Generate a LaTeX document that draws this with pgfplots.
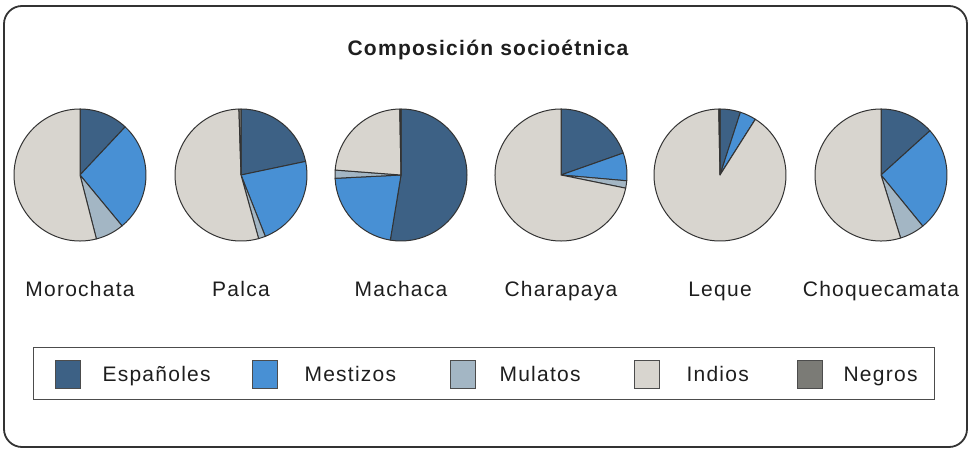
\documentclass[border=0pt]{standalone}
\usepackage{pgfplots}
\pgfplotsset{compat=1.18}
\usepackage{pgfplotstable}
\usepackage{fontspec}
\setmainfont{Liberation Sans}[LetterSpace=6]
\newfontfamily\titlefont{Liberation Sans}[LetterSpace=6]
\definecolor{cE}{HTML}{3D6185}
\definecolor{cM}{HTML}{4890D4}
\definecolor{cMu}{HTML}{A3B6C4}
\definecolor{cI}{HTML}{D8D5CF}
\definecolor{cN}{HTML}{7B7B76}
\definecolor{txt}{HTML}{1E1E1E}

\pgfplotstableread{
name E M Mu I N
Morochata 12 27 7 54 0
Palca 21.7 22.3 1.7 53.8 0.5
Machaca 52.6 21.6 2 23.5 0.3
Charapaya 19.6 6.8 1.8 71.8 0
Leque 5 4 0 90.7 0.3
Choquecamata 13.3 25.8 6.1 54.8 0
}\piedata

\newcommand\slice[3]{%
  \addplot[fill=#3, draw=black!80, line width=1pt, line join=round]
    coordinates {(0,0)} -- ++({90-3.6*(#1)}:66pt)
    arc[start angle={90-3.6*(#1)}, end angle={90-3.6*(#2)}, radius=66pt] -- cycle;}

\newcommand\pie[2]{%
  \pgfplotstablegetelem{#1}{E}\of\piedata \edef\vE{\pgfplotsretval}%
  \pgfplotstablegetelem{#1}{M}\of\piedata \edef\vM{\pgfplotsretval}%
  \pgfplotstablegetelem{#1}{Mu}\of\piedata \edef\vMu{\pgfplotsretval}%
  \pgfplotstablegetelem{#1}{I}\of\piedata \edef\vI{\pgfplotsretval}%
  \pgfplotstablegetelem{#1}{name}\of\piedata \edef\vName{\pgfplotsretval}%
  \pgfmathsetmacro\cA{\vE}%
  \pgfmathsetmacro\cB{\cA+\vM}%
  \pgfmathsetmacro\cC{\cB+\vMu}%
  \pgfmathsetmacro\cD{\cC+\vI}%
  \begin{axis}[at={(#2pt,275pt)}, anchor=center, hide axis, clip=false,
      scale only axis, x=66pt, y=66pt, xmin=-1, xmax=1, ymin=-1, ymax=1]
    \slice{0}{\cA}{cE}
    \slice{\cA}{\cB}{cM}
    \slice{\cB}{\cC}{cMu}
    \slice{\cC}{\cD}{cI}
    \slice{\cD}{100}{cN}
  \end{axis}
  \node[anchor=base, text=txt, font=\fontsize{21}{24}\selectfont] at (#2pt,153pt) {\vName};
}

\begin{document}
\begin{tikzpicture}[x=1pt, y=1pt]
\path (0,0) rectangle (970,450);
\draw[line width=1.8pt, black!80, rounded corners=18pt] (4,3) rectangle (967,444);
\node[anchor=base, text=txt, font=\fontsize{21}{24}\titlefont\bfseries] at (488,394) {Composición socioétnica};
\pie{0}{80}
\pie{1}{241}
\pie{2}{401}
\pie{3}{561}
\pie{4}{720}
\pie{5}{881}
% legend
\draw[line width=1pt, black!70] (33,50) rectangle (934,102);
\begin{scope}[every node/.style={anchor=base west, text=txt, font=\fontsize{21}{24}\selectfont}]
\filldraw[fill=cE, draw=black!70, line width=0.8pt] (55,62) rectangle (80,90);
\node at (99,68) {Españoles};
\filldraw[fill=cM, draw=black!70, line width=0.8pt] (252,62) rectangle (277,90);
\node at (301,68) {Mestizos};
\filldraw[fill=cMu, draw=black!70, line width=0.8pt] (450,62) rectangle (475,90);
\node at (496,68) {Mulatos};
\filldraw[fill=cI, draw=black!70, line width=0.8pt] (634,62) rectangle (659,90);
\node at (683,68) {Indios};
\filldraw[fill=cN, draw=black!70, line width=0.8pt] (797,62) rectangle (822,90);
\node at (840,68) {Negros};
\end{scope}
\end{tikzpicture}
\end{document}
